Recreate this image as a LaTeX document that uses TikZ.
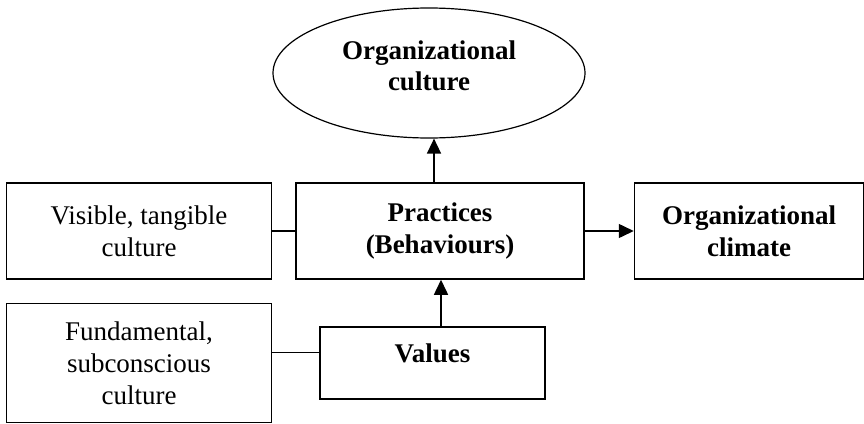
\documentclass[tikz,border=0pt]{standalone}
\usepackage{fontspec}
\setmainfont{Liberation Serif}
\usetikzlibrary{arrows.meta,positioning,shapes.geometric}

\begin{document}
\begin{tikzpicture}[x=1pt,y=-1pt,>={Triangle[length=15pt,width=14pt]},line width=1.5pt,align=center,
	every node/.style={font=\fontsize{27}{32}\selectfont},
	box/.style={draw,minimum height=96pt,inner sep=2pt},
	boldbox/.style={box,font=\fontsize{27}{32}\selectfont\bfseries}]
			\useasboundingbox (0,0) rectangle (864,423);
			\node[boldbox,minimum width=288pt] (practices) at (440,231) {Practices\\(Behaviours)};
			\node[box,minimum width=265pt] [left=23pt of practices] (visible) {Visible, tangible\\culture};
			\node[boldbox,minimum width=229pt] [right=49pt of practices] (climate) {Organizational\\climate};
			\node[draw,ellipse,line width=1.2pt,minimum width=312pt,minimum height=130pt,inner sep=0pt,
				text depth=14pt,font=\fontsize{27}{31}\selectfont\bfseries] (culture) at (429,73) {Organizational\\culture};
			\node[boldbox,minimum width=225pt,minimum height=72pt,text depth=20pt] (values) at (432.5,363) {Values};
			\node[box,minimum width=265pt,minimum height=119pt] [left=47pt of values] (fundamental) {Fundamental,\\subconscious\\culture};
			\path[->]
			([xshift=-6pt]practices.north) edge ([xshift=-6pt]practices.north |- culture.south)
			([xshift=8.5pt]values.north) edge ([xshift=8.5pt]values.north |- practices.south)
			(practices) edge (climate);
			\draw (visible) -- (practices);
			\draw ([yshift=10.5pt]fundamental.east) -- ([yshift=10.5pt]fundamental.east -| values.west);
		\end{tikzpicture}
\end{document}
